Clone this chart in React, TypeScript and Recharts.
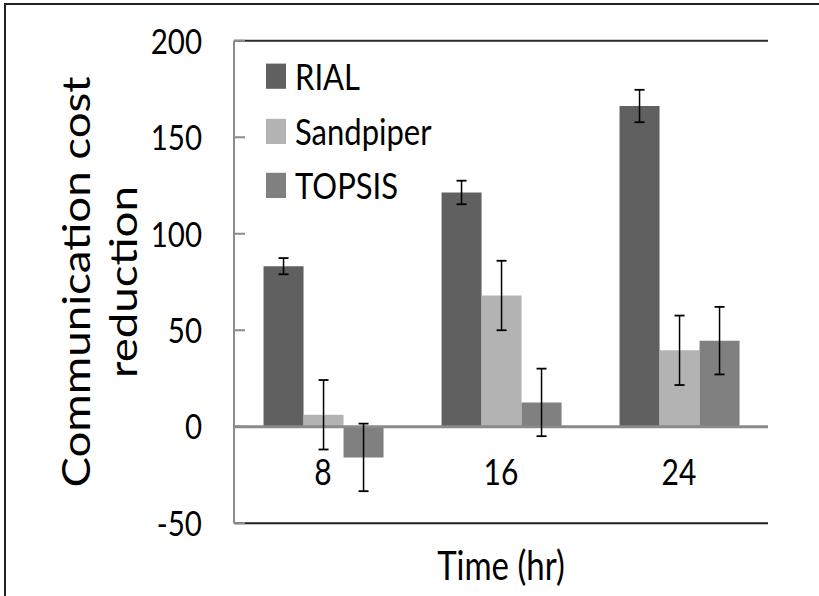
import React from 'react';
import { BarChart, Bar, XAxis, YAxis, ReferenceLine, ErrorBar, Legend } from 'recharts';

const categories = ['8', '16', '24'];
const rialValues = [83.2, 121.4, 166.2];
const rialErrors = [4.2, 6.1, 8.4];
const sandpiperValues = [6.2, 68, 39.6];
const sandpiperErrors = [18, 18, 18];
const topsisValues = [-15.9, 12.6, 44.6];
const topsisErrors = [17.5, 17.5, 17.5];
const yTicks = [-50, 0, 50, 100, 150, 200];
const seriesNames = ['RIAL', 'Sandpiper', 'TOPSIS'];
const seriesColors = ['#606060', '#b3b3b3', '#808080'];

const data = categories.map((c, i) => ({
  time: c,
  RIAL: rialValues[i],
  RIALErr: rialErrors[i],
  Sandpiper: sandpiperValues[i],
  SandpiperErr: sandpiperErrors[i],
  TOPSIS: topsisValues[i],
  TOPSISErr: topsisErrors[i],
}));

const FONT = 'Lato, "DejaVu Sans", sans-serif';

const XTick = (props: any) => {
  const { x, y, payload } = props;
  return (
    <text x={x} y={y - 32} textAnchor="middle" fontSize={30} fontFamily={FONT} fill="#000">
      {payload.value}
    </text>
  );
};

const TICK_MARGIN = 32;
const YTick = (props: any) => {
  const { x, y, payload } = props;
  return (
    <g>
      <line x1={x + TICK_MARGIN} x2={x + TICK_MARGIN + 11} y1={y} y2={y} stroke="#8c8c8c" strokeWidth={1.7} />
      <text x={x} y={y} dy="0.36em" textAnchor="end" fontSize={29.5} fontFamily={FONT} fill="#000">
        {payload.value}
      </text>
    </g>
  );
};

const YLabel = (props: any) => {
  const vb = props.viewBox || { x: 0, y: 34, width: 234, height: 402 };
  const cy = vb.y + vb.height / 2;
  const x1 = vb.x + 90;
  const x2 = vb.x + 137;
  return (
    <g>
      <text x={x1} y={cy} transform={`rotate(-90, ${x1}, ${cy})`} textAnchor="middle" fontSize={38} fontFamily={FONT} fill="#000">
        Communication cost
      </text>
      <text x={x2} y={cy} transform={`rotate(-90, ${x2}, ${cy})`} textAnchor="middle" fontSize={38} fontFamily={FONT} fill="#000">
        reduction
      </text>
    </g>
  );
};

const LegendContent = () => (
  <div style={{ fontFamily: FONT }}>
    {seriesNames.map((n, i) => (
      <div key={n} style={{ height: 45.5, display: 'flex', alignItems: 'center' }}>
        <div style={{ width: 20, height: 21, background: seriesColors[i] }} />
        <span style={{ marginLeft: 9, fontSize: 31, color: '#000', lineHeight: '31px' }}>{n}</span>
      </div>
    ))}
  </div>
);

export default function App() {
  return (
    <div style={{ position: 'absolute', left: 0, top: 0, width: 819, height: 596, overflow: 'hidden', background: '#fff' }}>
      <div
        style={{
          position: 'absolute',
          left: 4,
          top: 3,
          width: 900,
          height: 700,
          borderLeft: '2px solid #222',
          borderTop: '2px solid #222',
        }}
      />
      <div style={{ position: 'absolute', left: 0, top: 0, transform: 'scale(1, 1.2)', transformOrigin: '0 0' }}>
        <BarChart
          width={819}
          height={497}
          data={data}
          margin={{ top: 34, right: 51, bottom: 0, left: 0 }}
          barCategoryGap="16.6%"
          barGap={0}
        >
          <XAxis
            dataKey="time"
            height={61}
            tickSize={0}
            tickMargin={0}
            tick={<XTick />}
            axisLine={{ stroke: '#1e1e1e', strokeWidth: 1.7 }}
            tickLine={false}
            label={{ value: 'Time (hr)', position: 'insideBottom', offset: 14, fontSize: 33, fontFamily: FONT, fill: '#000' }}
          />
          <YAxis
            width={234}
            domain={[-50, 200]}
            ticks={yTicks}
            interval={0}
            tickSize={0}
            tickMargin={TICK_MARGIN}
            tick={<YTick />}
            tickLine={false}
            axisLine={{ stroke: '#8c8c8c', strokeWidth: 2 }}
            label={<YLabel />}
          />
          <YAxis
            yAxisId="right"
            orientation="right"
            width={0}
            domain={[-50, 200]}
            tick={false}
            tickLine={false}
            axisLine={{ stroke: '#2a2a2a', strokeWidth: 2 }}
          />
          <ReferenceLine y={200} stroke="#2a2a2a" strokeWidth={1.7} />
          <ReferenceLine y={0} stroke="#8a8a8a" strokeWidth={2.5} />
          <Legend
            layout="vertical"
            align="center"
            verticalAlign="middle"
            wrapperStyle={{ left: 266, top: 41, width: 'auto', height: 'auto' }}
            content={<LegendContent />}
          />
          <Bar dataKey="RIAL" name="RIAL" fill={seriesColors[0]} isAnimationActive={false}>
            <ErrorBar dataKey="RIALErr" width={5} stroke="#000" strokeWidth={1.5} />
          </Bar>
          <Bar dataKey="Sandpiper" name="Sandpiper" fill={seriesColors[1]} isAnimationActive={false}>
            <ErrorBar dataKey="SandpiperErr" width={5} stroke="#000" strokeWidth={1.5} />
          </Bar>
          <Bar dataKey="TOPSIS" name="TOPSIS" fill={seriesColors[2]} isAnimationActive={false}>
            <ErrorBar dataKey="TOPSISErr" width={5} stroke="#000" strokeWidth={1.5} />
          </Bar>
        </BarChart>
      </div>
    </div>
  );
}
